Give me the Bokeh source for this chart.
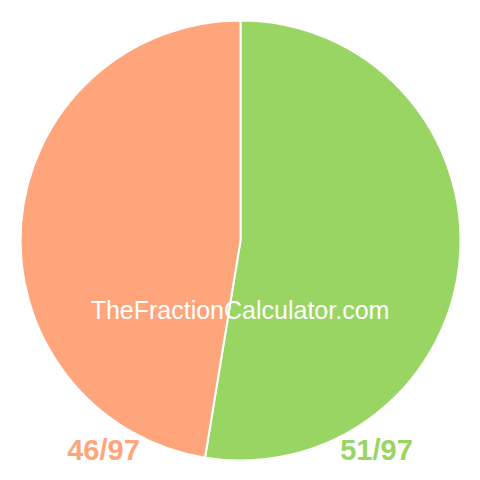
import math
from bokeh.plotting import figure
from bokeh.models import ColumnDataSource, Range1d
from bokeh.core.properties import value
from bokeh.embed import file_html
from bokeh.resources import INLINE

# Data
parts = [51, 46]
total = 97
labels = ["51/97", "46/97"]
colors = ["#99D563", "#FFA57C"]
site_text = "TheFractionCalculator.com"

# Pie geometry (page pixels, y measured upward from page bottom)
cx, cy, r = 240, 240, 220

p = figure(
    width=480,
    height=480,
    x_range=Range1d(0, 480),
    y_range=Range1d(0, 480),
    output_backend="svg",
    toolbar_location=None,
    min_border=0,
)
p.axis.visible = False
p.grid.visible = False
p.outline_line_color = None
p.background_fill_color = "white"

# Slices go clockwise from 12 o'clock
starts, ends = [], []
angle = math.pi / 2
for v in parts:
    sweep = 2 * math.pi * v / total
    ends.append(angle)
    starts.append(angle - sweep)
    angle -= sweep

src = ColumnDataSource(data={
    "start": starts,
    "end": ends,
    "color": colors,
})
p.wedge(x=cx, y=cy, radius=r, start_angle="start", end_angle="end",
        fill_color="color", line_color="white", line_width=2, source=src)

# Fraction labels under the pie
lab_src = ColumnDataSource(data={
    "x": [376, 103],
    "y": [31, 31],
    "text": labels,
    "color": colors,
})
p.text(x="x", y="y", text="text", text_color="color", source=lab_src,
       text_font=value("Liberation Sans"), text_font_style="bold",
       text_font_size="29px", text_align="center", text_baseline="alphabetic")

p.text(x=[239.5], y=[171], text=[site_text], text_color="white",
       text_font=value("Liberation Sans"), text_font_size="25px",
       text_align="center", text_baseline="alphabetic")

open("out.html", "w").write(file_html(p, INLINE))
